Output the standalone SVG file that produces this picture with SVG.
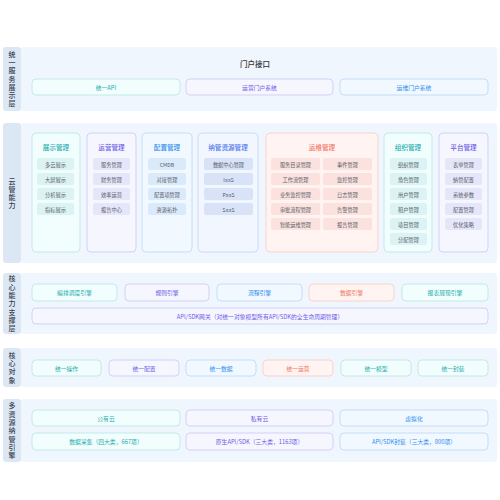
<svg xmlns="http://www.w3.org/2000/svg" width="500" height="500" viewBox="0 0 500 500">
<style>
text{font-family:"Noto Sans CJK SC","Noto Sans",sans-serif;text-anchor:middle;dominant-baseline:central}
.panel{fill:#f0f6fe}
.lab{fill:#dce7f6}
.labt{font-size:7px;fill:#3a3f4a;font-weight:500;writing-mode:vertical-rl;letter-spacing:1.3px}
.t{stroke-width:0.8}
.teal{fill:#f2fdfd;stroke:#b5e6e6}
.purple{fill:#f6f6ff;stroke:#cbc8f7}
.blue{fill:#f1f8ff;stroke:#b7d8f7}
.navy{fill:#f2f6ff;stroke:#c4d3f5}
.salmon{fill:#fff4f1;stroke:#f7cbc3}
.tt{fill:#22adad}
.tp{fill:#6c5ce7}
.tb{fill:#2e8ef0}
.tn{fill:#4a78ea}
.ts{fill:#f27362}
.bx{font-size:5.8px}
.ct{font-size:6.6px;font-weight:500}
.it{font-size:5.2px;fill:#555a66}
.iteal{fill:#dcf3f3}
.ipurple{fill:#e6e6fa}
.iblue{fill:#dbeafb}
.inavy{fill:#d9e3f8}
.isalmon{fill:#fbe2de}
</style>
<rect width="500" height="500" fill="#ffffff"/>

<!-- Layer 1 -->
<g id="layer1">
<rect class="panel" x="21" y="47" width="476" height="64" rx="3"/>
<rect class="lab" x="3" y="47" width="18" height="64" rx="3"/>
<text class="labt" x="12" y="79.6">统一服务展示层</text>
<text x="255" y="63" font-size="7.5" fill="#333" font-weight="500">门户接口</text>
</g>
<g id="n-api"><rect class="teal t" x="32" y="79" width="148" height="16" rx="4"/><text class="bx tt" x="106" y="87">统一API</text></g>
<g id="n-yyportal"><rect class="purple t" x="186" y="79" width="147" height="16" rx="4"/><text class="bx tp" x="259.5" y="87">运营门户系统</text></g>
<g id="n-ywportal"><rect class="blue t" x="340" y="79" width="148" height="16" rx="4"/><text class="bx tb" x="414" y="87">运维门户系统</text></g>

<!-- Layer 2 -->
<g id="layer2">
<rect class="panel" x="21" y="123" width="476" height="140" rx="3"/>
<rect class="lab" x="3" y="123" width="18" height="140" rx="3"/>
<text class="labt" x="12" y="194">云管能力</text>
</g>

<g id="c-zhanshi">
<rect class="teal t" x="32" y="133" width="48" height="119" rx="4"/>
<text class="ct tt" x="56" y="147">展示管理</text>
<rect class="iteal" x="37" y="158" width="37" height="12" rx="2"/><text class="it" x="55.5" y="164">多云展示</text>
<rect class="iteal" x="37" y="173" width="37" height="12" rx="2"/><text class="it" x="55.5" y="179">大屏展示</text>
<rect class="iteal" x="37" y="188" width="37" height="12" rx="2"/><text class="it" x="55.5" y="194">分析展示</text>
<rect class="iteal" x="37" y="203" width="37" height="12" rx="2"/><text class="it" x="55.5" y="209">指标展示</text>
</g>
<g id="c-yunying">
<rect class="purple t" x="87" y="133" width="49" height="119" rx="4"/>
<text class="ct tp" x="111.5" y="147">运营管理</text>
<rect class="ipurple" x="93" y="158" width="37" height="12" rx="2"/><text class="it" x="111.5" y="164">服务管理</text>
<rect class="ipurple" x="93" y="173" width="37" height="12" rx="2"/><text class="it" x="111.5" y="179">财务管理</text>
<rect class="ipurple" x="93" y="188" width="37" height="12" rx="2"/><text class="it" x="111.5" y="194">效率运营</text>
<rect class="ipurple" x="93" y="203" width="37" height="12" rx="2"/><text class="it" x="111.5" y="209">报告中心</text>
</g>
<g id="c-peizhi">
<rect class="blue t" x="142" y="133" width="50" height="119" rx="4"/>
<text class="ct tb" x="167" y="147">配置管理</text>
<rect class="iblue" x="148" y="158" width="38" height="12" rx="2"/><text class="it" x="167" y="164">CMDB</text>
<rect class="iblue" x="148" y="173" width="38" height="12" rx="2"/><text class="it" x="167" y="179">对接管理</text>
<rect class="iblue" x="148" y="188" width="38" height="12" rx="2"/><text class="it" x="167" y="194">配置项管理</text>
<rect class="iblue" x="148" y="203" width="38" height="12" rx="2"/><text class="it" x="167" y="209">资源拓扑</text>
</g>
<g id="c-naguan">
<rect class="navy t" x="198" y="133" width="60" height="119" rx="4"/>
<text class="ct tn" x="228" y="147">纳管资源管理</text>
<rect class="inavy" x="204" y="158" width="49" height="12" rx="2"/><text class="it" x="228.5" y="164">数据中心管理</text>
<rect class="inavy" x="204" y="173" width="49" height="12" rx="2"/><text class="it" x="228.5" y="179">IaaS</text>
<rect class="inavy" x="204" y="188" width="49" height="12" rx="2"/><text class="it" x="228.5" y="194">PaaS</text>
<rect class="inavy" x="204" y="203" width="49" height="12" rx="2"/><text class="it" x="228.5" y="209">SaaS</text>
</g>
<g id="c-yunwei">
<rect class="salmon t" x="266" y="133" width="112" height="119" rx="4"/>
<text class="ct ts" x="322" y="147">运维管理</text>
<rect class="isalmon" x="271" y="158" width="49" height="12" rx="2"/><text class="it" x="295.5" y="164">服务目录管理</text>
<rect class="isalmon" x="271" y="173" width="49" height="12" rx="2"/><text class="it" x="295.5" y="179">工作流管理</text>
<rect class="isalmon" x="271" y="188" width="49" height="12" rx="2"/><text class="it" x="295.5" y="194">业务监控管理</text>
<rect class="isalmon" x="271" y="203" width="49" height="12" rx="2"/><text class="it" x="295.5" y="209">审批流程管理</text>
<rect class="isalmon" x="271" y="218" width="49" height="12" rx="2"/><text class="it" x="295.5" y="224">智能运维管理</text>
<rect class="isalmon" x="323" y="158" width="49" height="12" rx="2"/><text class="it" x="347.5" y="164">事件管理</text>
<rect class="isalmon" x="323" y="173" width="49" height="12" rx="2"/><text class="it" x="347.5" y="179">监控管理</text>
<rect class="isalmon" x="323" y="188" width="49" height="12" rx="2"/><text class="it" x="347.5" y="194">日志管理</text>
<rect class="isalmon" x="323" y="203" width="49" height="12" rx="2"/><text class="it" x="347.5" y="209">告警管理</text>
<rect class="isalmon" x="323" y="218" width="49" height="12" rx="2"/><text class="it" x="347.5" y="224">报告管理</text>
</g>
<g id="c-zuzhi">
<rect class="teal t" x="384" y="133" width="48" height="119" rx="4"/>
<text class="ct tt" x="408" y="147">组织管理</text>
<rect class="iteal" x="390" y="158" width="37" height="12" rx="2"/><text class="it" x="408.5" y="164">组织管理</text>
<rect class="iteal" x="390" y="173" width="37" height="12" rx="2"/><text class="it" x="408.5" y="179">角色管理</text>
<rect class="iteal" x="390" y="188" width="37" height="12" rx="2"/><text class="it" x="408.5" y="194">用户管理</text>
<rect class="iteal" x="390" y="203" width="37" height="12" rx="2"/><text class="it" x="408.5" y="209">租户管理</text>
<rect class="iteal" x="390" y="218" width="37" height="12" rx="2"/><text class="it" x="408.5" y="224">项目管理</text>
<rect class="iteal" x="390" y="233" width="37" height="12" rx="2"/><text class="it" x="408.5" y="239">分配管理</text>
</g>
<g id="c-pingtai">
<rect class="purple t" x="439" y="133" width="49" height="119" rx="4"/>
<text class="ct tp" x="463.5" y="147">平台管理</text>
<rect class="ipurple" x="445" y="158" width="37" height="12" rx="2"/><text class="it" x="463.5" y="164">表单管理</text>
<rect class="ipurple" x="445" y="173" width="37" height="12" rx="2"/><text class="it" x="463.5" y="179">纳管配置</text>
<rect class="ipurple" x="445" y="188" width="37" height="12" rx="2"/><text class="it" x="463.5" y="194">系统参数</text>
<rect class="ipurple" x="445" y="203" width="37" height="12" rx="2"/><text class="it" x="463.5" y="209">配置管理</text>
<rect class="ipurple" x="445" y="218" width="37" height="12" rx="2"/><text class="it" x="463.5" y="224">优化策略</text>
</g>

<!-- Layer 3 -->
<g id="layer3">
<rect class="panel" x="21" y="273" width="476" height="61" rx="3"/>
<rect class="lab" x="3" y="273" width="18" height="61" rx="3"/>
<text class="labt" x="12" y="304.2">核心能力支撑层</text>
</g>
<g id="n-bianpai"><rect class="teal t" x="32" y="284" width="85" height="17" rx="4"/><text class="bx tt" x="74.5" y="292.5">编排调度引擎</text></g>
<g id="n-guize"><rect class="purple t" x="125" y="284" width="84" height="17" rx="4"/><text class="bx tp" x="167" y="292.5">规则引擎</text></g>
<g id="n-liucheng"><rect class="blue t" x="217" y="284" width="85" height="17" rx="4"/><text class="bx tb" x="259.5" y="292.5">流程引擎</text></g>
<g id="n-shuju"><rect class="salmon t" x="309" y="284" width="85" height="17" rx="4"/><text class="bx ts" x="351.5" y="292.5">数据引擎</text></g>
<g id="n-baobiao"><rect class="teal t" x="402" y="284" width="86" height="17" rx="4"/><text class="bx tt" x="445" y="292.5">报表展现引擎</text></g>
<g id="n-gateway"><rect class="purple t" x="32" y="308" width="456" height="16" rx="4"/><text class="bx tp" x="260" y="316">API/SDK网关（对统一对象模型所有API/SDK的全生命周期管理）</text></g>

<!-- Layer 4 -->
<g id="layer4">
<rect class="panel" x="21" y="348" width="476" height="39" rx="3"/>
<rect class="lab" x="3" y="348" width="18" height="39" rx="3"/>
<text class="labt" x="12" y="368.2">核心对象</text>
</g>
<g id="n-op"><rect class="teal t" x="32" y="360" width="69" height="16" rx="4"/><text class="bx tt" x="66.5" y="368">统一操作</text></g>
<g id="n-cfg"><rect class="purple t" x="109" y="360" width="70" height="16" rx="4"/><text class="bx tp" x="144" y="368">统一配置</text></g>
<g id="n-data"><rect class="blue t" x="186" y="360" width="70" height="16" rx="4"/><text class="bx tb" x="221" y="368">统一数据</text></g>
<g id="n-ops"><rect class="salmon t" x="263" y="360" width="70" height="16" rx="4"/><text class="bx ts" x="298" y="368">统一运营</text></g>
<g id="n-model"><rect class="teal t" x="341" y="360" width="70" height="16" rx="4"/><text class="bx tt" x="376" y="368">统一模型</text></g>
<g id="n-pack"><rect class="teal t" x="418" y="360" width="70" height="16" rx="4"/><text class="bx tt" x="453" y="368">统一封装</text></g>

<!-- Layer 5 -->
<g id="layer5">
<rect class="panel" x="21" y="399" width="476" height="63" rx="3"/>
<rect class="lab" x="3" y="399" width="18" height="63" rx="3"/>
<text class="labt" x="12" y="431.2">多资源纳管引擎</text>
</g>
<g id="n-public"><rect class="teal t" x="32" y="410" width="148" height="16" rx="4"/><text class="bx tt" x="106" y="418">公有云</text></g>
<g id="n-private"><rect class="purple t" x="186" y="410" width="147" height="16" rx="4"/><text class="bx tp" x="259.5" y="418">私有云</text></g>
<g id="n-virt"><rect class="blue t" x="340" y="410" width="148" height="16" rx="4"/><text class="bx tb" x="414" y="418">虚拟化</text></g>
<g id="n-collect"><rect class="teal t" x="32" y="433" width="148" height="17" rx="4"/><text class="bx tt" x="106" y="441.5">数据采集（四大类，667项）</text></g>
<g id="n-native"><rect class="purple t" x="186" y="433" width="147" height="17" rx="4"/><text class="bx tp" x="259.5" y="441.5">原生API/SDK（三大类，1163项）</text></g>
<g id="n-wrap"><rect class="blue t" x="340" y="433" width="148" height="17" rx="4"/><text class="bx tb" x="414" y="441.5">API/SDK封装（三大类，800项）</text></g>

<g id="connectors"></g>
</svg>
